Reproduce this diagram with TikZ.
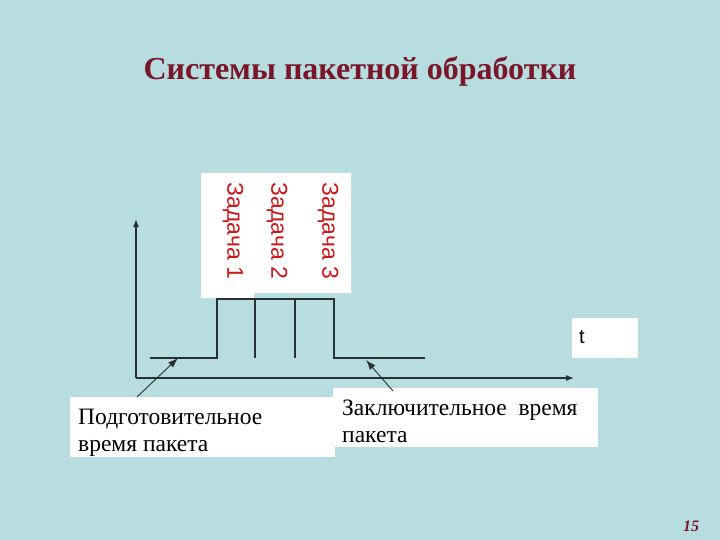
\documentclass[tikz,border=0pt]{standalone}
\usepackage{fontspec}
\setmainfont{Liberation Serif}
\setsansfont{Liberation Sans}
\usetikzlibrary{positioning,arrows,arrows.meta}
\definecolor{slidebg}{RGB}{183,221,225}
\definecolor{titlered}{RGB}{122,22,40}
\definecolor{taskred}{RGB}{204,24,24}
\definecolor{linegray}{RGB}{40,48,48}

\begin{document}
\begin{tikzpicture}[x=1pt,y=-1pt]
		\tikzstyle{every node}+=[inner sep=0pt]
		\tikzstyle{task}=[rotate=-90,text=taskred,font=\sffamily\fontsize{23}{27}\selectfont]
		\tikzstyle{labelbox}=[fill=white,anchor=north west,minimum width=265pt]
		\tikzstyle{label}=[anchor=north west,align=left,font=\fontsize{23.5}{26.5}\selectfont]
		\tikzstyle{wire}=[linegray,line width=1.1pt]
		\tikzstyle{pointer}=[linegray,line width=0.9pt,-{Latex[length=10pt,width=7pt]}]
		\fill [slidebg] (0,0) rectangle (720,540);
		\node (title) at (360,71) {\textbf{\fontsize{32}{36}\selectfont\color{titlered}Системы пакетной обработки}};
		% axes
		\coordinate (o) at (136,378);
		\coordinate (ytop) at (136,219);
		\coordinate (xend) at (574,378);
		\draw [wire,-{Latex[length=8pt,width=6pt]}] (o) -- (ytop);
		\draw [wire,-{Latex[length=8pt,width=6pt]}] (o) -- (xend);
		% white field under the tasks
		\fill [white] (201,173) -- (351,173) -- (351,293) -- (254,293) -- (254,298) -- (201,298) -- cycle;
		\node [task] (t1) at (233,231) {Задача 1};
		\node [task] (t2) at (277,231) {Задача 2};
		\node [task] (t3) at (328,231) {Задача 3};
		% packet
		\coordinate (a) at (150,358);
		\coordinate (b) at (217,358);
		\coordinate (c) at (217,299);
		\coordinate (d) at (334,299);
		\coordinate (e) at (334,358);
		\coordinate (f) at (425,358);
		\draw [wire] (a) -- (b) -- (c) -- (d) -- (e) -- (f);
		\draw [wire] (255,299) -- (255,358);
		\draw [wire] (295,299) -- (295,358);
		% labels
		\node [fill=white,minimum width=66pt,minimum height=40pt,anchor=north west] (tbox) at (572,318) {};
		\node [font=\sffamily\fontsize{20}{24}\selectfont,anchor=base west] (t) at (579,343) {t};
		\node [labelbox,minimum height=60pt] (prep) at (70,397) {};
		\node [label] (preptext) at (78,409) {Подготовительное\\время пакета};
		\node [labelbox,minimum height=59pt] (fin) at (333,388) {};
		\node [label] (fintext) at (342,400) {Заключительное \ время\\пакета};
		\coordinate (prepfoot) at (137,397);
		\coordinate (prephead) at (178,358);
		\coordinate (finfoot) at (393,391);
		\coordinate (finhead) at (366,360);
		\draw [pointer] (prepfoot) -- (prephead);
		\draw [pointer] (finfoot) -- (finhead);
		\node (page) at (691,526) {\textbf{\textit{\fontsize{16}{18}\selectfont\color{titlered}15}}};
\end{tikzpicture}
\end{document}
